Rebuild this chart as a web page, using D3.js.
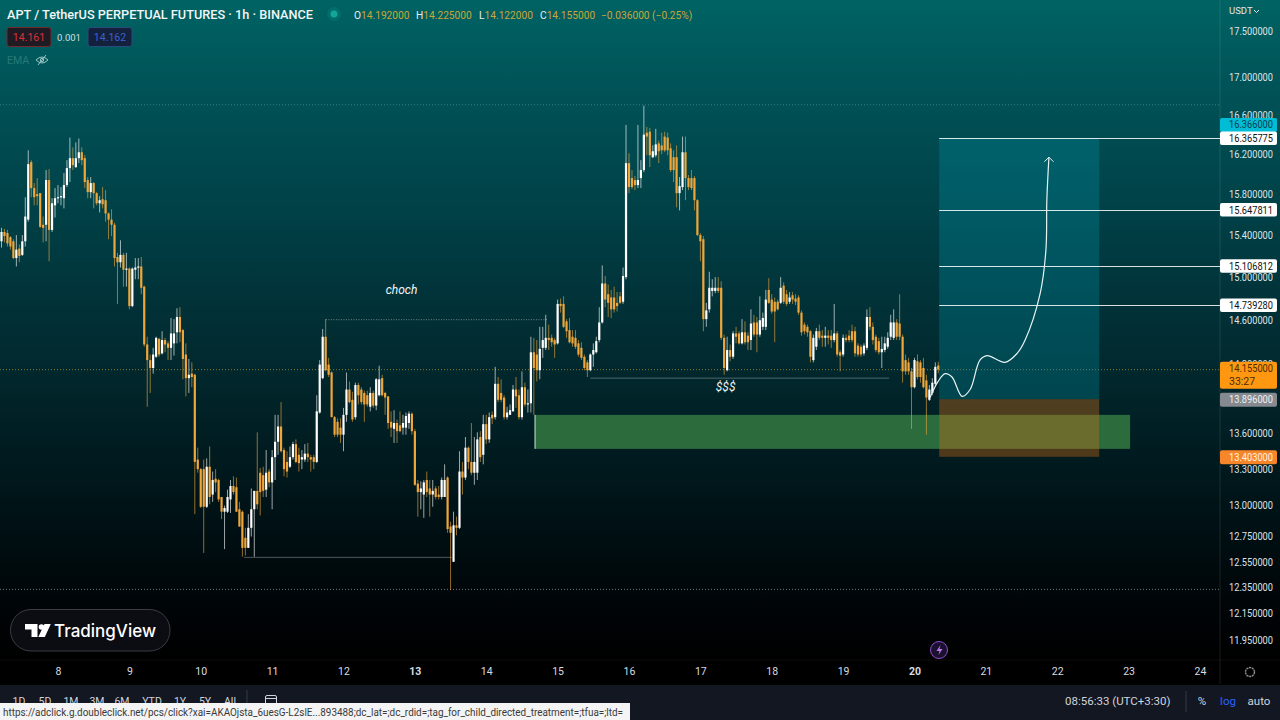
<!DOCTYPE html>
<html><head><meta charset="utf-8">
<script src="https://cdn.jsdelivr.net/npm/d3@7"></script>
<style>html,body{margin:0;padding:0;background:#000;overflow:hidden}svg{display:block}text{font-family:Roboto,sans-serif}</style>
</head><body><div id="c"></div>
<script>
const opens=[
15.34,15.43,15.42,15.38,15.34,15.18,15.27,15.21,15.34,15.55,
16.12,15.86,15.80,15.81,15.50,15.50,15.94,15.45,15.69,15.76,
15.77,15.76,15.89,16.06,16.16,16.07,16.16,16.22,16.16,15.94,
15.82,15.91,15.81,15.71,15.75,15.74,15.61,15.55,15.50,15.19,
15.14,15.21,15.07,15.08,14.73,15.07,15.09,15.10,14.91,14.38,
14.24,14.17,14.27,14.43,14.30,14.42,14.39,14.35,14.39,14.49,
14.63,14.51,14.29,14.08,14.12,14.11,13.38,13.30,13.30,12.99,
13.32,13.09,13.22,13.21,13.07,12.95,12.95,13.05,13.16,13.15,
12.97,12.95,12.74,12.66,12.82,12.97,13.12,13.27,13.25,13.13,
13.28,13.19,13.40,13.53,13.66,13.46,13.36,13.32,13.40,13.51,
13.42,13.38,13.38,13.43,13.40,13.40,13.36,13.78,14.08,14.45,
14.20,14.13,13.74,13.70,13.65,13.59,13.76,13.98,13.89,13.74,
14.02,13.98,13.95,13.93,13.83,13.95,13.84,13.93,14.08,13.95,
13.92,13.70,13.64,13.69,13.67,13.65,13.65,13.69,13.77,13.62,
13.18,13.11,13.09,13.21,13.14,13.09,13.14,13.09,13.07,13.07,
13.23,12.83,12.55,12.84,12.82,13.28,13.23,13.48,13.36,13.27,
13.27,13.57,13.42,13.68,13.55,13.76,13.74,14.03,13.95,13.91,
13.74,13.76,13.79,13.98,13.93,13.74,14.00,13.85,13.86,
14.31,14.29,14.15,14.35,14.35,14.44,14.44,14.42,14.39,14.75,
14.75,14.59,14.51,14.45,14.44,14.39,14.35,14.27,14.22,14.15,
14.29,14.31,14.42,14.58,14.94,14.84,14.81,14.81,14.76,14.82,
14.77,15.00,16.11,15.96,15.94,15.89,15.96,16.04,16.42,16.43,
16.17,16.19,16.31,16.29,16.38,16.37,16.26,16.17,16.17,15.81,
15.87,16.22,15.96,15.96,15.96,15.74,15.40,15.36,14.61,14.70,
14.87,14.87,14.90,14.90,14.44,14.15,14.33,14.27,14.48,14.48,
14.39,14.49,14.46,14.42,14.58,14.58,14.47,14.54,14.54,14.88,
14.79,14.77,14.77,14.76,14.92,14.84,14.77,14.83,14.80,14.81,14.67,
14.56,14.54,14.50,14.24,14.36,14.50,14.46,14.44,14.46,14.46,
14.42,14.48,14.31,14.29,14.44,14.46,14.50,14.50,14.37,14.36,
14.30,14.35,14.63,14.54,14.45,14.41,14.31,14.33,14.36,14.45,
14.44,14.58,14.57,14.45,14.24,14.22,14.14,14.00,14.23,14.22,
14.17,14.06,13.89,13.95,14.03,14.192];
const closes=[
15.43,15.39,15.32,15.29,15.18,15.26,15.20,15.34,15.58,16.10,
15.86,15.77,15.78,15.48,15.47,15.94,15.45,15.71,15.76,15.77,
15.78,15.89,16.06,16.16,16.09,16.16,16.22,16.14,15.92,15.82,
15.91,15.81,15.71,15.74,15.70,15.61,15.55,15.50,15.18,15.14,
15.21,15.07,15.08,14.73,15.08,15.09,15.10,14.90,14.38,14.24,
14.17,14.29,14.44,14.29,14.42,14.38,14.35,14.48,14.48,14.63,
14.49,14.25,14.08,14.11,14.09,13.36,13.30,12.99,12.99,13.32,
13.07,13.21,13.19,13.05,12.95,12.98,13.07,13.16,13.11,12.95,
12.83,12.66,12.66,12.82,12.97,13.12,13.01,13.11,13.12,13.27,
13.19,13.40,13.53,13.66,13.45,13.30,13.28,13.40,13.51,13.36,
13.35,13.40,13.43,13.40,13.38,13.36,13.79,14.20,14.45,14.15,
14.11,13.74,13.59,13.59,13.59,13.76,13.98,13.87,13.72,14.02,
13.93,13.87,13.85,13.85,13.95,13.84,14.07,14.07,13.93,13.91,
13.69,13.65,13.69,13.62,13.62,13.69,13.75,13.77,13.62,13.17,
13.11,13.14,13.19,13.11,13.09,13.12,13.07,13.07,13.21,13.21,
12.81,12.78,12.84,12.82,13.28,13.23,13.48,13.36,13.27,13.36,
13.55,13.40,13.68,13.55,13.74,13.73,14.03,13.89,13.89,13.74,
13.78,13.80,13.98,13.92,13.74,14.00,13.85,13.86,14.31,
14.17,14.15,14.34,14.42,14.44,14.42,14.40,14.38,14.75,14.73,
14.54,14.50,14.40,14.39,14.36,14.29,14.26,14.17,14.15,14.29,
14.33,14.41,14.58,14.94,14.79,14.76,14.70,14.70,14.73,14.76,
15.01,16.11,15.87,15.87,15.89,15.94,16.04,16.40,16.38,16.19,
16.23,16.30,16.23,16.24,16.24,16.24,16.04,16.04,15.81,15.88,
16.22,15.96,15.87,15.86,15.74,15.40,15.34,14.61,14.69,14.90,
14.90,14.90,14.87,14.44,14.17,14.33,14.27,14.48,14.45,14.39,
14.49,14.40,14.40,14.57,14.47,14.47,14.60,14.62,14.79,14.76,
14.68,14.68,14.70,14.90,14.77,14.75,14.81,14.79,14.77,14.67,14.49,
14.50,14.49,14.27,14.44,14.50,14.44,14.44,14.46,14.44,14.42,
14.48,14.29,14.28,14.44,14.42,14.42,14.42,14.30,14.29,14.29,
14.37,14.63,14.54,14.42,14.33,14.31,14.34,14.39,14.44,14.58,
14.58,14.45,14.45,14.14,14.14,14.14,14.00,14.24,14.09,14.09,
14.00,13.91,13.98,14.04,14.18,14.155];
const highs=[
15.47,15.46,15.45,15.39,15.36,15.40,15.31,15.40,15.77,16.24,
16.14,15.91,15.96,15.81,15.58,16.04,16.05,15.76,15.86,15.89,
15.87,16.01,16.14,16.37,16.27,16.32,16.36,16.27,16.19,15.97,
15.97,15.92,15.82,15.78,15.87,15.84,15.62,15.65,15.52,15.23,
15.35,15.23,15.23,15.09,15.09,15.18,15.18,15.19,14.92,14.45,
14.29,14.35,14.45,14.44,14.50,14.44,14.41,14.62,14.61,14.71,
14.72,14.52,14.39,14.25,14.22,14.12,13.48,13.31,13.38,13.39,
13.49,13.28,13.30,13.22,13.07,13.00,13.13,13.21,13.24,13.23,
13.03,12.96,12.82,12.93,13.14,13.12,13.61,13.31,13.32,13.46,
13.30,13.46,13.76,13.76,13.87,13.48,13.45,13.49,13.53,13.55,
13.48,13.46,13.51,13.52,13.42,13.42,13.93,14.24,14.52,14.61,
14.26,14.14,13.75,13.73,13.73,13.82,14.13,14.05,13.96,14.04,
14.04,14.00,13.97,13.97,14.00,13.97,14.08,14.19,14.11,13.96,
13.92,13.79,13.80,13.72,13.79,13.76,13.78,13.79,13.78,13.64,
13.21,13.20,13.21,13.28,13.21,13.21,13.16,13.16,13.23,13.34,
13.24,12.87,12.95,12.91,13.45,13.36,13.57,13.49,13.69,13.57,
13.61,13.62,13.76,13.76,13.78,13.79,14.18,14.09,14.07,13.93,
13.83,13.85,14.02,14.09,13.98,14.14,14.04,13.98,14.45,
14.44,14.42,14.54,14.54,14.65,14.56,14.47,14.44,14.79,14.80,
14.82,14.61,14.62,14.51,14.51,14.42,14.40,14.29,14.24,14.30,
14.39,14.45,14.72,15.11,15.01,14.93,14.88,14.91,14.86,14.86,
15.09,16.50,16.21,16.04,15.98,16.50,16.14,16.70,16.48,16.47,
16.29,16.46,16.34,16.42,16.43,16.42,16.31,16.24,16.29,15.97,
16.38,16.38,15.99,16.04,15.98,15.75,15.42,15.39,14.76,15.05,
14.98,15.00,15.00,14.96,14.47,14.45,14.38,14.50,14.54,14.50,
14.61,14.59,14.49,14.70,14.65,14.63,14.82,14.67,14.88,14.99,
14.84,14.81,14.79,15.00,14.95,14.88,14.86,14.86,14.84,14.83,14.69,
14.58,14.56,14.51,14.47,14.53,14.56,14.51,14.54,14.51,14.51,
14.75,14.50,14.33,14.47,14.47,14.51,14.56,14.54,14.39,14.38,
14.39,14.70,14.72,14.58,14.47,14.44,14.45,14.45,14.49,14.65,
14.70,14.61,14.84,14.47,14.29,14.26,14.17,14.26,14.29,14.24,
14.26,14.11,14.02,14.08,14.22,14.225];
const lows=[
15.28,15.33,15.29,15.26,15.17,15.10,15.14,15.20,15.29,15.53,
15.77,15.69,15.69,15.47,15.33,15.34,15.15,15.43,15.57,15.71,
15.69,15.66,15.87,15.92,16.04,16.06,16.11,16.09,15.86,15.76,
15.76,15.66,15.69,15.62,15.66,15.53,15.36,15.39,15.10,14.75,
15.09,14.91,14.91,14.70,14.72,14.98,14.98,14.84,14.36,13.83,
13.95,14.12,14.26,14.27,14.29,14.31,14.24,14.24,14.28,14.39,
14.40,14.07,13.92,13.95,14.00,12.93,13.27,12.98,12.62,12.98,
13.01,13.03,13.11,13.03,12.89,12.65,12.94,12.94,13.09,12.95,
12.83,12.59,12.60,12.66,12.75,12.59,12.97,12.92,13.07,13.07,
13.15,12.97,13.21,13.42,13.44,13.24,13.23,13.31,13.38,13.35,
13.28,13.30,13.36,13.36,13.28,13.30,13.35,13.77,14.07,14.14,
14.09,13.74,13.57,13.57,13.52,13.45,13.70,13.86,13.70,13.72,
13.85,13.85,13.70,13.83,13.79,13.82,13.80,13.92,13.92,13.76,
13.64,13.57,13.52,13.52,13.61,13.59,13.59,13.64,13.59,13.16,
12.91,12.97,12.90,13.07,12.91,12.99,13.05,13.05,13.05,13.07,
12.78,12.33,12.55,12.76,12.81,13.09,13.21,13.30,13.25,13.17,
13.21,13.36,13.34,13.51,13.52,13.68,13.72,13.87,13.87,13.72,
13.72,13.76,13.79,13.82,13.72,13.72,13.83,13.78,13.78,
13.76,14.05,14.07,14.26,14.33,14.33,14.36,14.26,14.38,14.67,
14.53,14.44,14.39,14.36,14.34,14.27,14.24,14.15,14.09,14.14,
14.18,14.30,14.40,14.57,14.72,14.63,14.62,14.67,14.68,14.75,
14.75,14.98,15.81,15.85,15.84,15.86,15.86,16.02,16.19,16.07,
16.16,16.17,16.11,16.20,16.22,16.19,16.02,15.92,15.67,15.64,
15.84,15.74,15.84,15.84,15.64,15.39,15.15,14.50,14.54,14.67,
14.82,14.85,14.85,14.42,14.11,14.14,14.23,14.25,14.39,14.38,
14.38,14.38,14.33,14.33,14.45,14.31,14.45,14.51,14.51,14.75,
14.66,14.40,14.69,14.75,14.75,14.73,14.75,14.75,14.74,14.65,14.46,
14.47,14.45,14.22,14.22,14.33,14.42,14.36,14.36,14.38,14.35,
14.40,14.27,14.14,14.27,14.40,14.40,14.40,14.27,14.27,14.27,
14.28,14.33,14.51,14.38,14.31,14.29,14.17,14.31,14.34,14.42,
14.42,14.42,14.42,14.04,14.11,14.11,13.64,13.99,14.07,14.04,
13.99,13.59,13.88,13.93,14.01,14.122];

const firstHour=-19;
const priceTicks=[17.5,17,16.6,16.2,15.8,15.4,15,14.6,14.2,13.9,13.6,13.3,13,12.75,12.55,12.35,12.15,11.95];
const dayLabels=["8","9","10","11","12","13","14","15","16","17","18","19","20","21","22","23","24"];
const boldDays=["13","20"];
const rangeButtons=["1D","5D","1M","3M","6M","YTD","1Y","5Y","All"];
const targetPrices=[16.365775,15.647811,15.106812,14.739280];
const pathHours=[293.2,295.9,298.3,300.6,304,306.7,310,312.4,318.4,322.5,325.2,330.2,332.2,332.5,333.2];
const pathPrices=[13.91,14.05,14.12,14.09,13.92,13.98,14.24,14.28,14.22,14.30,14.42,14.84,15.26,15.74,16.17];
const highLine=16.71, lowLine=12.335, lastPrice=14.155, entry=13.896, stop=13.403, target=16.366;
const demandZone={top:13.76,bottom:13.47,from:160.4,to:360.5};
const rrHours=[296.3,350.1];
const segments=[
 {a:[90.1,14.605],b:[164.8,14.605],dots:true},
 {a:[62.5,12.585],b:[132.5,12.585],dots:false},
 {a:[179,14.08],b:[279.5,14.08],dots:false}];

const W=1280,H=720,paneR=1220,paneB=660;
const y=d3.scaleLog().domain([11.95,17.5]).range([640,31]);
const x=d3.scaleLinear().domain([0,384]).range([58,1200]);
const svg=d3.select("#c").append("svg").attr("width",W).attr("height",H);
const defs=svg.append("defs");
const g0=defs.append("linearGradient").attr("id","bg").attr("x1",0).attr("y1",0).attr("x2",0).attr("y2",1);
[[0,"#006363"],[.15,"#005156"],[.31,"#004248"],[.46,"#013238"],[.61,"#012328"],[.76,"#001418"],[.91,"#000508"],[1,"#000000"]]
 .forEach(s=>g0.append("stop").attr("offset",s[0]).attr("stop-color",s[1]));
svg.append("rect").attr("width",W).attr("height",paneB).attr("fill","url(#bg)");
svg.append("rect").attr("y",paneB).attr("width",W).attr("height",25).attr("fill","#000");
svg.append("rect").attr("y",685).attr("width",W).attr("height",35).attr("fill","#131722");
svg.append("line").attr("x1",paneR).attr("x2",paneR).attr("y1",0).attr("y2",684).attr("stroke","#ffffff").attr("stroke-opacity",.1);
svg.append("line").attr("x1",0).attr("x2",W).attr("y1",paneB).attr("y2",paneB).attr("stroke","#ffffff").attr("stroke-opacity",.05);

// level lines
const lvl=(p,col,op,dash)=>svg.append("line").attr("x1",0).attr("x2",paneR).attr("y1",y(p)).attr("y2",y(p))
  .attr("stroke",col).attr("stroke-opacity",op).attr("stroke-dasharray",dash);
lvl(highLine,"#9fd0d0",.35,"1 2");
lvl(lowLine,"#cfd8d8",.55,"1 2");
lvl(lastPrice,"#f0a838",.6,"1 2");

// zones
svg.append("rect").attr("x",x(demandZone.from)).attr("width",x(demandZone.to)-x(demandZone.from))
  .attr("y",y(demandZone.top)).attr("height",y(demandZone.bottom)-y(demandZone.top)).attr("fill","#2b6b3c");
svg.append("line").attr("x1",x(demandZone.from)).attr("x2",x(demandZone.from)).attr("y1",y(demandZone.top)).attr("y2",y(demandZone.bottom)).attr("stroke","#cfe8d8").attr("stroke-width",1);
svg.append("rect").attr("x",x(rrHours[0])).attr("width",x(rrHours[1])-x(rrHours[0]))
  .attr("y",y(target)).attr("height",y(entry)-y(target)).attr("fill","#0096aa").attr("fill-opacity",.3);
svg.append("rect").attr("x",x(rrHours[0])).attr("width",x(rrHours[1])-x(rrHours[0]))
  .attr("y",y(entry)).attr("height",y(stop)-y(entry)).attr("fill","#dc6e14").attr("fill-opacity",.36);

// target lines
svg.selectAll(".tl").data(targetPrices).join("line").attr("x1",x(rrHours[0])).attr("x2",paneR)
  .attr("y1",d=>Math.round(y(d))+.5).attr("y2",d=>Math.round(y(d))+.5).attr("stroke","#ffffff").attr("stroke-width",1).attr("stroke-opacity",.85);

// annotation segments
segments.forEach(s=>svg.append("line").attr("x1",x(s.a[0])).attr("x2",x(s.b[0])).attr("y1",y(s.a[1])).attr("y2",y(s.b[1]))
  .attr("stroke","#aab8b8").attr("stroke-opacity",s.dots?.65:.45).attr("stroke-dasharray",s.dots?"1 1.5":null));

// candles
const candles=closes.map((c,i)=>({h:firstHour+i,o:opens[i],c,hi:highs[i],lo:lows[i],up:c>=opens[i]}));
const colour=d=>d.up?"#ffffff":"#efa63a";
const gc=svg.append("g");
gc.selectAll(".w").data(candles).join("line").attr("x1",d=>x(d.h)).attr("x2",d=>x(d.h))
  .attr("y1",d=>y(d.hi)).attr("y2",d=>y(d.lo)).attr("stroke",colour).attr("stroke-width",1).attr("stroke-opacity",.62);
gc.selectAll(".b").data(candles).join("rect").attr("x",d=>x(d.h)-1.1).attr("width",2.2)
  .attr("y",d=>Math.min(y(d.o),y(d.c))).attr("height",d=>Math.max(1.2,Math.abs(y(d.o)-y(d.c)))).attr("fill",colour);

// hand-drawn path
const pathData=pathHours.map((h,i)=>[h,pathPrices[i]]);
svg.append("path").attr("d",d3.line().x(d=>x(d[0])).y(d=>y(d[1])).curve(d3.curveCatmullRom)(pathData))
  .attr("fill","none").attr("stroke","#e8f4f4").attr("stroke-width",1.2);
const tip=pathData[pathData.length-1];
svg.append("path").attr("d",`M${x(tip[0])-4.5},${y(tip[1])+4.5}L${x(tip[0])},${y(tip[1])}L${x(tip[0])+4.5},${y(tip[1])+4.5}`)
  .attr("fill","none").attr("stroke","#e8f4f4").attr("stroke-width",1);

// text annotations
svg.append("text").attr("x",x(115.5)).attr("y",y(14.84)).attr("text-anchor","middle").attr("fill","#f2f6f6")
  .attr("font-size",12).attr("font-style","italic").text("choch");
svg.append("text").attr("x",x(224.5)).attr("y",y(13.97)).attr("text-anchor","middle").attr("fill","#f2f6f6")
  .attr("font-size",12).attr("font-style","italic").text("$$$");

// price axis
const ay=svg.append("g").attr("transform",`translate(1229,0)`)
  .call(d3.axisRight(y).tickValues(priceTicks).tickSize(0).tickPadding(0).tickFormat(d=>d.toFixed(6)));
ay.select(".domain").remove();
ay.selectAll("text").attr("fill","#dfe3e6").attr("font-size",10.5).style("font-family","Roboto,sans-serif")
  .attr("textLength",44).attr("lengthAdjust","spacingAndGlyphs");
svg.append("text").attr("x",1229).attr("y",14).attr("fill","#e5e8ea").attr("font-size",9.5).text("USDT");
svg.append("path").attr("d","M1254,10l2.5,2.5l2.5,-2.5").attr("fill","none").attr("stroke","#e5e8ea");

// time axis
const dayHours=dayLabels.map((d,i)=>i*24);
const ax=svg.append("g").attr("transform","translate(0,668)")
  .call(d3.axisBottom(x).tickValues(dayHours).tickSize(0).tickPadding(0).tickFormat((d,i)=>dayLabels[i]));
ax.select(".domain").remove();
ax.selectAll("text").attr("fill","#d8dce0").attr("font-size",10.5).style("font-family","Roboto,sans-serif")
  .attr("font-weight",(d,i)=>boldDays.includes(dayLabels[i])?"700":"400");

// right labels
function box(py,h,fill,lines,tcol,w){
  const g=svg.append("g");
  g.append("rect").attr("x",1220).attr("y",py).attr("width",w||57).attr("height",h).attr("rx",2).attr("fill",fill);
  lines.forEach((t,i)=>{const tx=g.append("text").attr("x",1229).attr("y",py+10.5+i*13).attr("font-size",10.5).attr("fill",tcol).text(t);
    if(t.length>6)tx.attr("textLength",44).attr("lengthAdjust","spacingAndGlyphs");});
}
box(y(16.366)-20,14,"#00bcd4",["16.366000"],"#0a4050");
targetPrices.forEach(p=>box(y(p)-6.5,13.5,"#ffffff",[p.toFixed(6)],"#111"));
box(y(14.155)-8,27,"#ff9810",["14.155000","33:27"],"#4a2a00");
box(y(13.896)-6.5,14,"#858a91",["13.896000"],"#f0f0f0");
box(y(13.403)-6.5,14,"#f7862a",["13.403000"],"#fff3e0");

// header
svg.append("text").attr("x",7).attr("y",18.5).attr("fill","#f2f6f6").attr("font-size",12.6).attr("font-weight",500)
  .attr("textLength",306).attr("lengthAdjust","spacingAndGlyphs").text("APT / TetherUS PERPETUAL FUTURES · 1h · BINANCE");
svg.append("circle").attr("cx",334).attr("cy",14).attr("r",3.5).attr("fill","#12a79a");
svg.append("circle").attr("cx",334).attr("cy",14).attr("r",7).attr("fill","#12a79a").attr("fill-opacity",.18);
const ohlc=[["O","14.192000",354],["H","14.225000",416],["L","14.122000",479],["C","14.155000",540]];
ohlc.forEach(o=>{
  const t=svg.append("text").attr("x",o[2]).attr("y",18.5).attr("font-size",10.2);
  t.append("tspan").attr("fill","#e6eeee").text(o[0]);
  t.append("tspan").attr("fill","#c9a63a").text(o[1]);
});
svg.append("text").attr("x",601).attr("y",18.5).attr("font-size",10.2).attr("fill","#c9a63a").text("−0.036000 (−0.25%)");
svg.append("rect").attr("x",7).attr("y",27.5).attr("width",44).attr("height",19).attr("rx",2.5).attr("fill","#201a22").attr("stroke","#6e2a30");
svg.append("text").attr("x",29).attr("y",41).attr("text-anchor","middle").attr("font-size",10.5).attr("fill","#d9323f").text("14.161");
svg.append("text").attr("x",69).attr("y",40.5).attr("text-anchor","middle").attr("font-size",9.5).attr("fill","#d5dede").text("0.001");
svg.append("rect").attr("x",88).attr("y",27.5).attr("width",44).attr("height",19).attr("rx",2.5).attr("fill","#14213c").attr("stroke","#2a4a80");
svg.append("text").attr("x",110).attr("y",41).attr("text-anchor","middle").attr("font-size",10.5).attr("fill","#3f5fd0").text("14.162");
svg.append("text").attr("x",7).attr("y",64).attr("font-size",10.5).attr("fill","#287878").text("EMA");
svg.append("path").attr("d","M36,60q6,-6 12,0q-6,6 -12,0M38,65l8,-10").attr("fill","none").attr("stroke","#9cc4c4").attr("stroke-width",1);
svg.append("circle").attr("cx",42).attr("cy",60).attr("r",1.7).attr("fill","none").attr("stroke","#9cc4c4");

// logo
svg.append("rect").attr("x",10.5).attr("y",609.5).attr("width",159.5).attr("height",41.5).attr("rx",20.5).attr("fill","#0c0d12").attr("stroke","#3a3d46");
svg.append("path").attr("d","M25,624h12.5v13h-6v-7.6h-6.5zM44.5,624h6.3l-6,13h-6.5z").attr("fill","#fff");
svg.append("circle").attr("cx",41.5).attr("cy",627).attr("r",2.8).attr("fill","#fff");
svg.append("text").attr("x",54).attr("y",637).attr("font-size",17).attr("font-weight",500).attr("fill","#fff").style("font-family","Inter,Roboto,sans-serif").attr("textLength",102).attr("lengthAdjust","spacingAndGlyphs").text("TradingView");

// event icon
svg.append("circle").attr("cx",939).attr("cy",650).attr("r",8.5).attr("fill","#1c1030").attr("stroke","#8e4fc8");
svg.append("path").attr("d","M940.5,645l-4,6h3l-1,4l4,-6h-3z").attr("fill","#b57be8");

// gear
svg.append("circle").attr("cx",1250).attr("cy",672).attr("r",4.5).attr("fill","none").attr("stroke","#8a8d92").attr("stroke-width",1.4).attr("stroke-dasharray","2.2 .6");

// bottom toolbar
const clip=defs.append("clipPath").attr("id","tb");clip.append("rect").attr("x",0).attr("y",685).attr("width",W).attr("height",18);
const tb=svg.append("g").attr("clip-path","url(#tb)");
const btnX=[19,45,71,97,122,152,180,205,230];
rangeButtons.forEach((t,i)=>tb.append("text").attr("x",btnX[i]).attr("y",705).attr("text-anchor","middle").attr("font-size",10.5).attr("fill","#d1d4dc").text(t));
tb.append("line").attr("x1",247).attr("x2",247).attr("y1",690).attr("y2",710).attr("stroke","#363a45");
tb.append("rect").attr("x",265.5).attr("y",695.5).attr("width",11).attr("height",11).attr("rx",1.5).attr("fill","none").attr("stroke","#d1d4dc");
tb.append("line").attr("x1",265).attr("x2",277).attr("y1",698.5).attr("y2",698.5).attr("stroke","#d1d4dc");
svg.append("rect").attr("x",0).attr("y",703).attr("width",630).attr("height",17).attr("fill","#f4f4f4");
svg.append("text").attr("x",3).attr("y",716).attr("font-size",10).attr("fill","#3a3a3a").attr("textLength",620).attr("lengthAdjust","spacingAndGlyphs")
  .text("https://adclick.g.doubleclick.net/pcs/click?xai=AKAOjsta_6uesG-L2slE...893488;dc_lat=;dc_rdid=;tag_for_child_directed_treatment=;tfua=;ltd=");
svg.append("text").attr("x",1065).attr("y",705).attr("font-size",11.5).attr("fill","#d1d4dc").text("08:56:33 (UTC+3:30)");
svg.append("line").attr("x1",1186).attr("x2",1186).attr("y1",691).attr("y2",712).attr("stroke","#363a45");
svg.append("text").attr("x",1202).attr("y",705).attr("text-anchor","middle").attr("font-size",11.5).attr("fill","#d1d4dc").text("%");
svg.append("text").attr("x",1228).attr("y",705).attr("text-anchor","middle").attr("font-size",11.5).attr("fill","#2962ff").text("log");
svg.append("text").attr("x",1259).attr("y",705).attr("text-anchor","middle").attr("font-size",11.5).attr("fill","#d1d4dc").text("auto");
</script></body></html>
